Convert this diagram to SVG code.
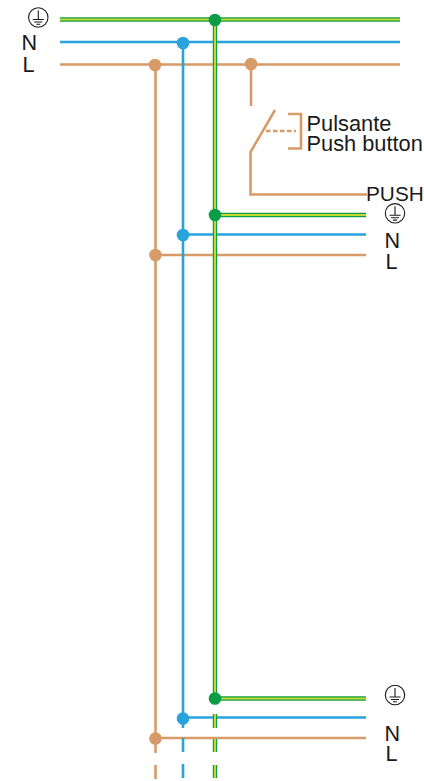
<svg xmlns="http://www.w3.org/2000/svg" width="424" height="781" viewBox="0 0 424 781">
<style>
.w{fill:none;stroke-width:2.6}
.br{stroke:#d69b67}.bl{stroke:#29a3dc}
.g1{fill:none;stroke:#0f9d48;stroke-width:4.4}
.g2{fill:none;stroke:#c4d92e;stroke-width:2}
.db{fill:#d69b67}.dl{fill:#29a3dc}.dg{fill:#0b9c47}
text{font-family:"Liberation Sans",Arial,sans-serif;fill:#1a1a1a;font-size:21.6px}
.sym{fill:none;stroke:#1a1a1a;stroke-width:1.1}
</style>
<defs>
<g id="earth"><circle class="sym" r="9.7"/><path class="sym" d="M0-7V2M-5.500 2H5.500M-4 4.500H4M-2 6.800H2"/></g>
</defs>
<g id="connectors">
<path class="w br" d="M60 64.500H400M155.500 64V753M155.500 765V779M251 64V106M275 110L250.500 152V194.500H367M155 255H366M155 738H366"/>
<path class="w bl" d="M60 42H400M183 42V728M183 738V752M183 764V778M183 234.500H366M183 717.500H366"/>
<path class="g1" d="M60 19.500H400M215 20V703M215 714V728M215 739V752M215 765V778M215 215H366M215 698.500H366"/>
<path class="g2" d="M60 19.500H400M215 20V703M215 714V728M215 739V752M215 765V778M215 215H366M215 698.500H366"/>
<path class="w br" stroke-dasharray="4.500 2.500" d="M266 131H296"/>
<path class="w br" d="M288 114H301V148.500H288"/>
</g>
<g id="junctions">
<circle class="dg" cx="215" cy="20" r="6.300"/><circle class="dl" cx="183" cy="43" r="6.300"/><circle class="db" cx="155" cy="65" r="6.300"/><circle class="db" cx="251" cy="64" r="6.300"/>
<circle class="dg" cx="215" cy="215" r="6.300"/><circle class="dl" cx="183" cy="235" r="6.300"/><circle class="db" cx="155.500" cy="255" r="6.300"/>
<circle class="dg" cx="215" cy="698.500" r="6.300"/><circle class="dl" cx="183" cy="718.500" r="6.300"/><circle class="db" cx="155.500" cy="738.500" r="6.300"/>
</g>
<g id="supply-labels"><use href="#earth" x="38.300" y="17.500"/><text x="21.500" y="50">N</text><text x="22.500" y="72">L</text></g>
<g id="switch-label"><text x="306.500" y="131" style="font-size:21.800px">Pulsante</text><text x="306.500" y="151" style="font-size:21.800px">Push button</text></g>
<g id="push-node"><text x="366" y="201" style="font-size:20.800px">PUSH</text></g>
<g id="output-1"><use href="#earth" x="395" y="213.300"/><text x="384.500" y="248">N</text><text x="385.500" y="268.500">L</text></g>
<g id="output-2"><use href="#earth" x="395" y="695"/><text x="384.500" y="741">N</text><text x="385.500" y="761">L</text></g>
</svg>
